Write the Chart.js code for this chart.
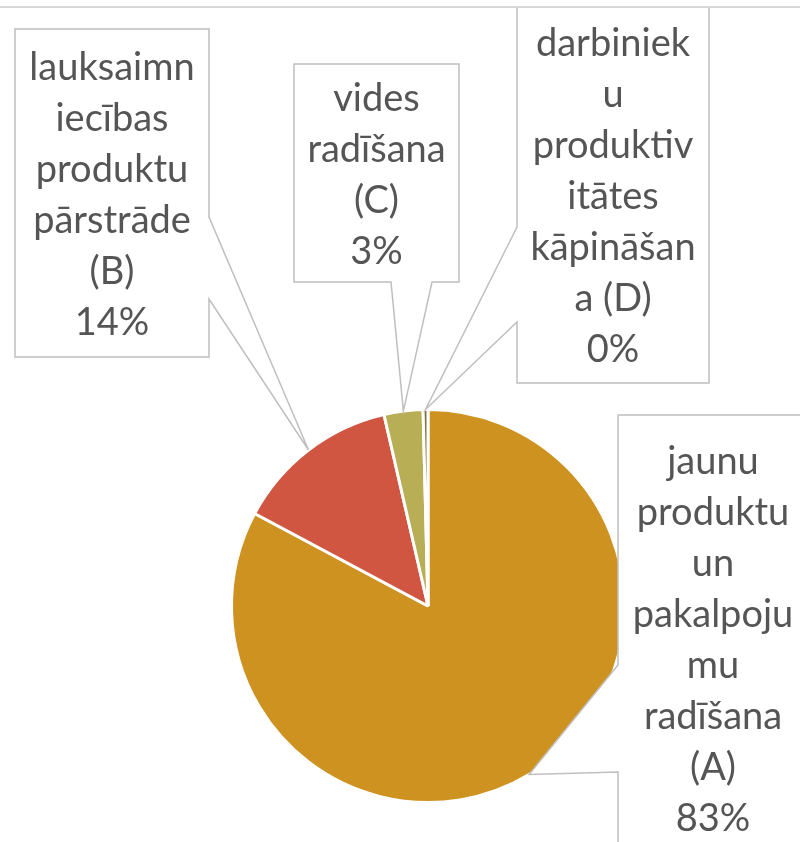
<!DOCTYPE html>
<html>
<head>
<meta charset="utf-8">
<script src="https://cdn.jsdelivr.net/npm/chart.js@4"></script>
<style>
  html, body { margin: 0; padding: 0; background: #ffffff; }
  #wrap { width: 800px; height: 842px; }
</style>
</head>
<body>
<div id="wrap"><canvas id="canvas" width="800" height="842"></canvas></div>
<script>
const categories = [
  "jaunu produktu un pakalpojumu radīšana (A)",
  "lauksaimniecības produktu pārstrāde (B)",
  "vides radīšana (C)",
  "darbinieku produktivitātes kāpināšana (D)",
];
// wrapped the way the label boxes show them
const labelLines = [
  ["jaunu", "produktu", "un", "pakalpoju", "mu", "radīšana", "(A)"],
  ["lauksaimn", "iecības", "produktu", "pārstrāde", "(B)"],
  ["vides", "radīšana", "(C)"],
  ["darbiniek", "u", "produktiv", "itātes", "kāpināšan", "a (D)"],
];
const shares = [82.8, 13.6, 3.2, 0.4];
const colors = ["#CD9220", "#D05641", "#B8AE55", "#7A7442"];

// callout boxes: left, top, right, bottom, edge carrying the pointer, pointer base
const boxes = [
  { l: 618, t: 415, r: 808, b: 862, edge: "left", p: [665, 772] },
  { l: 15, t: 29, r: 209, b: 357, edge: "right", p: [217, 299] },
  { l: 294, t: 64, r: 459, b: 282, edge: "bottom", p: [391, 432] },
  { l: 517, t: 7, r: 709, b: 383, edge: "left", p: [227, 322] },
];

const FONT = "38px Lato, 'DejaVu Sans', sans-serif";
const LINE_H = 51;

const callouts = {
  id: "callouts",
  afterDatasetsDraw(chart) {
    const ctx = chart.ctx;
    const meta = chart.getDatasetMeta(0);
    const total = shares.reduce((a, b) => a + b, 0);
    ctx.save();
    meta.data.forEach((arc, i) => {
      const { x, y, startAngle, endAngle, outerRadius } = arc.getProps(
        ["x", "y", "startAngle", "endAngle", "outerRadius"], true);
      const mid = (startAngle + endAngle) / 2;
      const tx = x + Math.cos(mid) * outerRadius;
      const ty = y + Math.sin(mid) * outerRadius;
      const bx = boxes[i];

      ctx.beginPath();
      ctx.moveTo(bx.l, bx.t);
      ctx.lineTo(bx.r, bx.t);
      if (bx.edge === "right") {
        ctx.lineTo(bx.r, bx.p[0]);
        ctx.lineTo(tx, ty);
        ctx.lineTo(bx.r, bx.p[1]);
      }
      ctx.lineTo(bx.r, bx.b);
      if (bx.edge === "bottom") {
        ctx.lineTo(bx.p[1], bx.b);
        ctx.lineTo(tx, ty);
        ctx.lineTo(bx.p[0], bx.b);
      }
      ctx.lineTo(bx.l, bx.b);
      if (bx.edge === "left") {
        ctx.lineTo(bx.l, bx.p[1]);
        ctx.lineTo(tx, ty);
        ctx.lineTo(bx.l, bx.p[0]);
      }
      ctx.closePath();
      ctx.fillStyle = "#ffffff";
      ctx.fill();
      ctx.strokeStyle = "#bfbfbf";
      ctx.lineWidth = 1.5;
      ctx.stroke();

      const lines = labelLines[i].concat([Math.round(shares[i] / total * 100) + "%"]);
      const cx = (bx.l + bx.r) / 2;
      const cy = (bx.t + bx.b) / 2;
      ctx.fillStyle = "#555555";
      ctx.font = FONT;
      ctx.textAlign = "center";
      ctx.textBaseline = "middle";
      lines.forEach((s, k) => {
        ctx.fillText(s, cx, cy + (k - (lines.length - 1) / 2) * LINE_H + 2);
      });
    });

    // frame line at the top
    ctx.strokeStyle = "#d9d9d9";
    ctx.lineWidth = 2;
    ctx.beginPath();
    ctx.moveTo(0, 7);
    ctx.lineTo(800, 7);
    ctx.stroke();
    ctx.restore();
  },
};

new Chart(document.getElementById("canvas"), {
  type: "pie",
  data: {
    labels: categories,
    datasets: [{
      data: shares,
      backgroundColor: colors,
      borderColor: "#ffffff",
      borderWidth: 3,
    }],
  },
  options: {
    responsive: false,
    animation: false,
    layout: { padding: { left: 230, right: 174, top: 408, bottom: 38 } },
    plugins: {
      legend: { display: false },
      tooltip: { enabled: false },
    },
  },
  plugins: [callouts],
});
</script>
</body>
</html>
